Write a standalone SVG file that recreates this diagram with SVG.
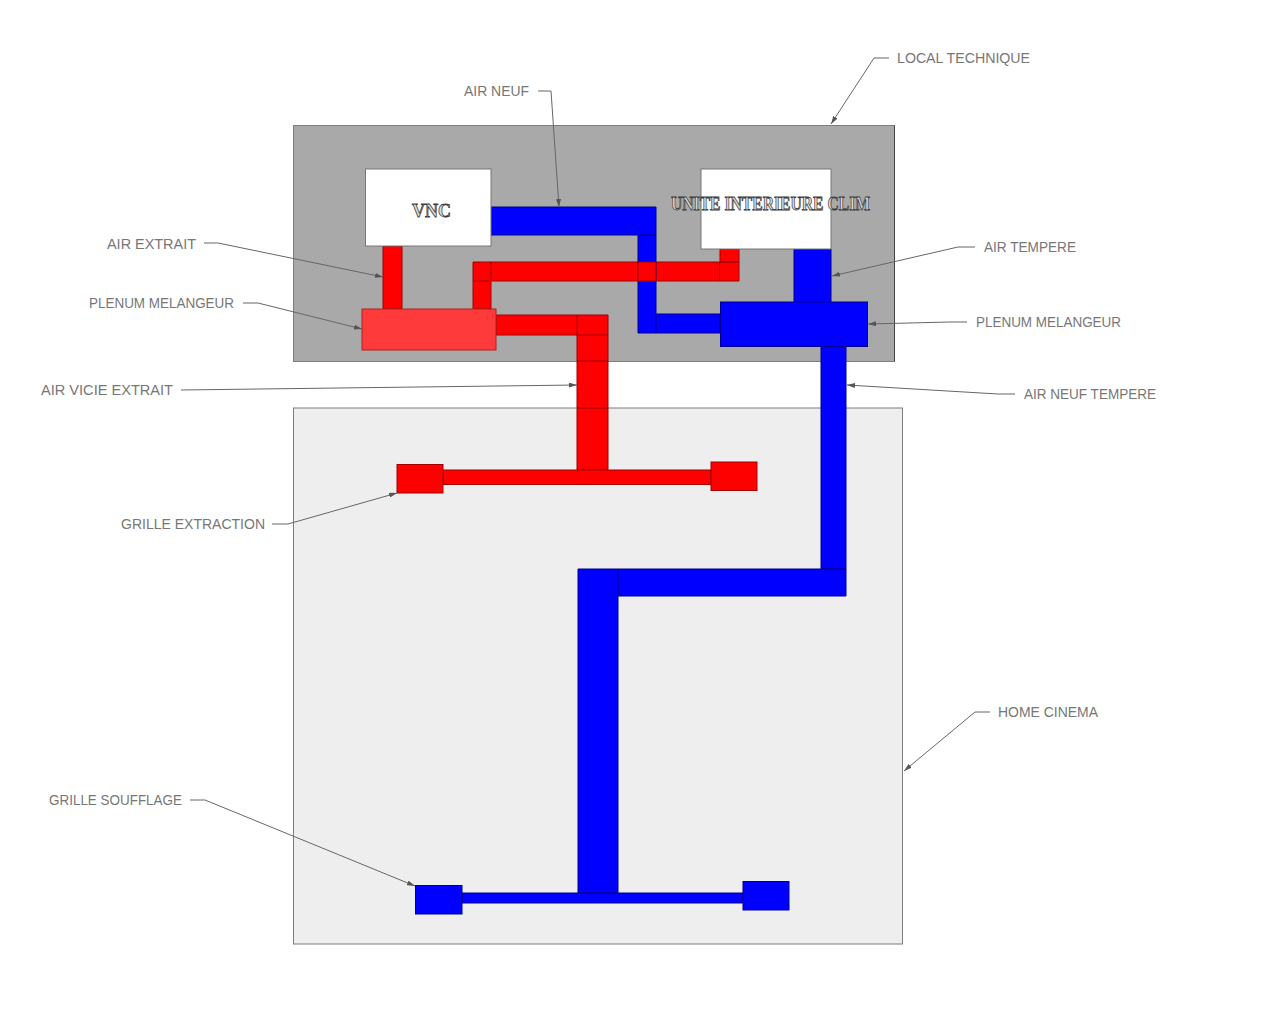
<svg xmlns="http://www.w3.org/2000/svg" width="1263" height="1024" viewBox="0 0 1263 1024">
<style>
.room{stroke:#7d7d7d;stroke-width:1}
.box{fill:#fff;stroke:#777;stroke-width:1}
.r{fill:#f00;stroke:#a00000;stroke-width:1}
.b{fill:#00f;stroke:#00008c;stroke-width:1}
.sep{fill:none;stroke-width:1}
.lr{stroke:#a00000}
.lb{stroke:#00008c}
.lbl{font-family:"Liberation Sans",Arial,sans-serif;font-size:15.5px;fill:#777;font-weight:normal}
.ttl{font-family:"Liberation Serif","Times New Roman",serif;font-size:19px;font-weight:bold;fill:#ddd;stroke:#3a3a3a;stroke-width:.8}
.lead{fill:none;stroke:#666;stroke-width:1;marker-end:url(#arr)}
</style>
<defs>
<marker id="arr" viewBox="0 0 8 5" refX="8" refY="2.500" markerWidth="8" markerHeight="5" markerUnits="userSpaceOnUse" orient="auto"><path d="M0 0L8 2.500L0 5Z" fill="#555"/></marker>
</defs>
<rect width="1263" height="1024" fill="#fff"/>
<g id="local-technique"><rect class="room" x="293.5" y="125.5" width="601" height="236" fill="#a9a9a9"/><path d="M894.500 125.500V361.500" stroke="#444" fill="none"/></g>
<g id="home-cinema"><rect class="room" x="293.5" y="408" width="609" height="536" fill="#eee" stroke="#999"/></g>
<g id="ducts-red">
<rect class="r" x="383" y="246" width="19" height="63"/>
<path class="r" d="M473 309V262H739V281H491V309Z"/>
<rect class="r" x="720" y="249" width="19" height="13"/>
<path class="r" d="M496 315H608V470H577V335H496Z"/>
<rect class="r" x="443" y="470" width="268" height="14.500"/>
<path class="sep lr" d="M491 262V281M473 281H491M719.500 262V281M720 262H739M577 315V335M577 335H608M577 361H608M577 408H608"/>
</g>
<g id="ducts-blue">
<path class="b" d="M491 207H656V314H720V333H638V235H491Z"/>
<path class="sep lb" d="M638 235H656M656 314V333"/>
<rect class="r" x="638" y="262" width="18" height="19"/>
<path class="b" d="M794 249H831V302H794Z"/>
<rect class="b" x="821" y="346" width="25" height="223"/>
<path class="b" d="M578 569H846V596H618V893H578Z"/>
<path class="sep lb" d="M618 569V596M821 569V570"/>
<rect class="b" x="462" y="893" width="281" height="10"/>
</g>
<g id="vnc"><rect class="box" x="365.500" y="169" width="125.500" height="77"/><text class="ttl" x="412" y="217" textLength="39" lengthAdjust="spacingAndGlyphs">VNC</text></g>
<g id="unite-interieure"><rect class="box" x="701" y="169" width="130" height="80"/><text class="ttl" x="671" y="210" textLength="199" lengthAdjust="spacingAndGlyphs">UNITE INTERIEURE CLIM</text></g>
<g id="plenum-rouge"><rect x="362" y="309" width="134" height="41" fill="#ff3a3a" stroke="#b02020"/></g>
<g id="plenum-bleu"><rect class="b" x="720.500" y="302" width="147" height="44.500"/></g>
<g id="grille-ext-1"><rect class="r" x="397" y="464.500" width="46" height="28.500"/></g>
<g id="grille-ext-2"><rect class="r" x="711" y="462" width="46" height="28.500"/></g>
<g id="grille-souf-1"><rect class="b" x="415.500" y="885.500" width="46.500" height="28.500"/></g>
<g id="grille-souf-2"><rect class="b" x="743" y="881.500" width="46" height="28.500"/></g>
<g id="leaders">
<path class="lead" d="M889 58H874L831 124"/>
<path class="lead" d="M538 91H551L559 207"/>
<path class="lead" d="M204 243H218L383 277"/>
<path class="lead" d="M243 303H258L362 329"/>
<path class="lead" d="M181 390L577 385"/>
<path class="lead" d="M272 524H288L397 493"/>
<path class="lead" d="M190 800H205L415 886"/>
<path class="lead" d="M975 247H958L832 276"/>
<path class="lead" d="M967 322H950L868 324"/>
<path class="lead" d="M1015 394H998L847 385"/>
<path class="lead" d="M990 712H975L904 771"/>
</g>
<g id="labels">
<text class="lbl" x="897" y="63" textLength="133" lengthAdjust="spacingAndGlyphs">LOCAL TECHNIQUE</text>
<text class="lbl" x="464" y="96" textLength="65" lengthAdjust="spacingAndGlyphs">AIR NEUF</text>
<text class="lbl" x="107" y="249" textLength="89" lengthAdjust="spacingAndGlyphs">AIR EXTRAIT</text>
<text class="lbl" x="89" y="308" textLength="145" lengthAdjust="spacingAndGlyphs">PLENUM MELANGEUR</text>
<text class="lbl" x="41" y="395" textLength="132" lengthAdjust="spacingAndGlyphs">AIR VICIE EXTRAIT</text>
<text class="lbl" x="121" y="529" textLength="144" lengthAdjust="spacingAndGlyphs">GRILLE EXTRACTION</text>
<text class="lbl" x="49" y="805" textLength="133" lengthAdjust="spacingAndGlyphs">GRILLE SOUFFLAGE</text>
<text class="lbl" x="984" y="252" textLength="92" lengthAdjust="spacingAndGlyphs">AIR TEMPERE</text>
<text class="lbl" x="976" y="327" textLength="145" lengthAdjust="spacingAndGlyphs">PLENUM MELANGEUR</text>
<text class="lbl" x="1024" y="399" textLength="132" lengthAdjust="spacingAndGlyphs">AIR NEUF TEMPERE</text>
<text class="lbl" x="998" y="717" textLength="100" lengthAdjust="spacingAndGlyphs">HOME CINEMA</text>
</g>
</svg>
